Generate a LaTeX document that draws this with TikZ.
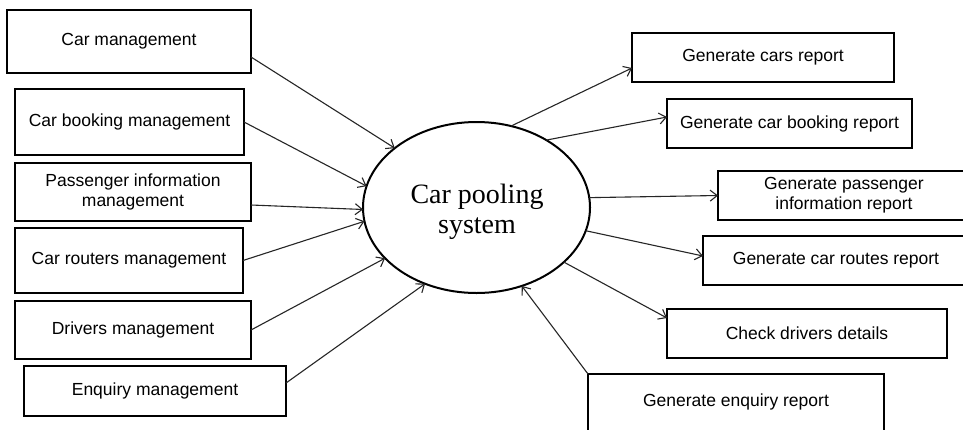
\documentclass[tikz,border=0pt]{standalone}
\usepackage{fontspec}
\setmainfont{Liberation Sans}
\newfontfamily\serifface{Liberation Serif}
\usetikzlibrary{shapes.geometric,arrows.meta}
\tikzset{
  box/.style={draw=black, line width=2.2pt, rectangle, inner sep=0pt, outer sep=0pt,
    align=center, font=\fontsize{17.5pt}{20pt}\selectfont},
  sysnode/.style={draw=black, line width=2pt, ellipse, inner sep=0pt, outer sep=0pt,
    minimum width=227pt, minimum height=171pt},
  systext/.style={align=center, inner sep=0pt, font=\serifface\fontsize{28pt}{30pt}\selectfont},
  flow/.style={draw=black!85, line width=1.1pt, -{Straight Barb[length=7pt,width=11pt,line width=1.1pt]}}
}
\begin{document}
\begin{tikzpicture}[x=1pt,y=-1pt]
\useasboundingbox (0,0) rectangle (963,429);
\clip (0,0) rectangle (963,429);
\fill[white] (0,0) rectangle (963,429);
% central process
\node[sysnode] (sys) at (476.5,207.5) {};
\node[systext] (syst) at (477,212) {Car pooling\\system};
% left boxes
\node[box, minimum width=244pt, minimum height=63pt] (L1) at (129,41.5) {Car management};
\node[box, minimum width=229pt, minimum height=66pt] (L2) at (129.5,122) {Car booking management};
\node[box, minimum width=236pt, minimum height=58pt] (L3) at (133,192) {Passenger information\\management};
\node[box, minimum width=228pt, minimum height=65pt] (L4) at (129,260.5) {Car routers management};
\node[box, minimum width=236pt, minimum height=58pt] (L5) at (133,330) {Drivers management};
\node[box, minimum width=262pt, minimum height=50pt] (L6) at (155,391) {Enquiry management};
% right boxes
\node[box, minimum width=262pt, minimum height=49pt] (R1) at (763,57.5) {Generate cars report};
\node[box, minimum width=245pt, minimum height=49pt] (R2) at (789.5,123.5) {Generate car booking report};
\node[box, minimum width=252pt, minimum height=49pt] (R3) at (844,195.5) {Generate passenger\\information report};
\node[box, minimum width=266pt, minimum height=49pt] (R4) at (836,260.5) {Generate car routes report};
\node[box, minimum width=280pt, minimum height=49pt] (R5) at (807,333.5) {Check drivers details};
\node[box, minimum width=296pt, minimum height=58pt] (R6) at (736,403) {};
\node[font=\fontsize{17.5pt}{20pt}\selectfont] (R6t) at (736,402) {Generate enquiry report};
% inputs
\draw[flow] ([yshift=-15.5pt]L1.east) -- (sys.144);
\draw[flow] (L2.east) -- (sys.169);
\draw[flow] ([yshift=-13pt]L3.east) -- (sys.181);
\draw[flow] (L4.east) -- (sys.187);
\draw[flow] (L5.east) -- (sys.209.5);
\draw[flow] ([yshift=8pt]L6.east) -- (sys.236);
% outputs
\draw[flow] (sys.67) -- ([yshift=-10.5pt]R1.west);
\draw[flow] (sys.44.6) -- ([yshift=6.5pt]R2.west);
\draw[flow] (sys.5.8) -- (R3.west);
\draw[flow] (sys.348.4) -- ([yshift=4.5pt]R4.west);
\draw[flow] (sys.328.2) -- ([yshift=15.5pt]R5.west);
\draw[flow] (R6.north west) -- (sys.300);
\end{tikzpicture}
\end{document}
